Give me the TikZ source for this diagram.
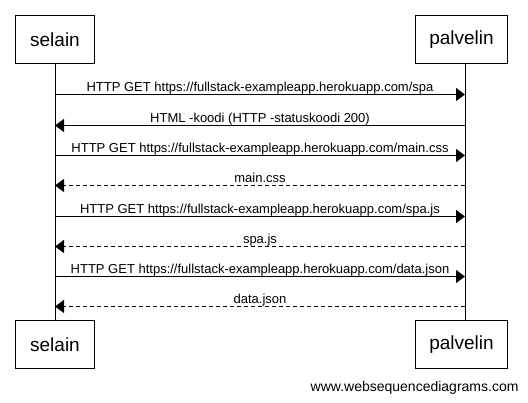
\documentclass[tikz,border=0pt]{standalone}
\usepackage{fontspec}
\setmainfont{Liberation Sans}
\usetikzlibrary{arrows.meta, positioning}

\begin{document}
\begin{tikzpicture}[
    x=1pt, y=-1pt,
    line width=1pt,
    actor/.style={draw, rectangle, minimum width=79pt, minimum height=48pt, inner sep=0pt, fill=white, font=\fontsize{19}{22}\selectfont},
    msg/.style={-{Triangle[length=9pt, width=13pt]}},
    reply/.style={-{Triangle[length=9pt, width=13pt]}, dash pattern=on 4pt off 3pt},
    lbl/.style={midway, anchor=base, yshift=3pt, inner sep=0pt, font=\fontsize{13}{15}\selectfont}
]
    \useasboundingbox (0,0) rectangle (528,403);

    % Actors (top and bottom)
    \node[actor] (SEL) at (55, 39.5) {selain};
    \node[actor, minimum width=92pt] (PAL) at (461.5, 39.5) {palvelin};
    \node[actor] (SEL2) at (55, 344.5) {selain};
    \node[actor, minimum width=92pt] (PAL2) at (461.5, 344.5) {palvelin};

    % Lifelines
    \coordinate (SELtop) at (55, 63.5);
    \coordinate (SELbot) at (55, 320.5);
    \coordinate (PALtop) at (465, 63.5);
    \coordinate (PALbot) at (465, 320.5);
    \draw (SELtop) -- (SELbot);
    \draw (PALtop) -- (PALbot);

    % Message points on the lifelines
    \coordinate (S1) at (55, 94.5);   \coordinate (P1) at (465, 94.5);
    \coordinate (S2) at (55, 125.5);  \coordinate (P2) at (465, 125.5);
    \coordinate (S3) at (55, 155.5);  \coordinate (P3) at (465, 155.5);
    \coordinate (S4) at (55, 185.5);  \coordinate (P4) at (465, 185.5);
    \coordinate (S5) at (55, 216.5);  \coordinate (P5) at (465, 216.5);
    \coordinate (S6) at (55, 246.5);  \coordinate (P6) at (465, 246.5);
    \coordinate (S7) at (55, 276.5);  \coordinate (P7) at (465, 276.5);
    \coordinate (S8) at (55, 306.5);  \coordinate (P8) at (465, 306.5);

    % Requests and replies
    \draw[msg] (S1) -- (P1) node[lbl] {HTTP GET https://fullstack-exampleapp.herokuapp.com/spa};
    \draw[msg] (P2) -- (S2) node[lbl] {HTML -koodi (HTTP -statuskoodi 200)};
    \draw[msg] (S3) -- (P3) node[lbl] {HTTP GET https://fullstack-exampleapp.herokuapp.com/main.css};
    \draw[reply] (P4) -- (S4) node[lbl] {main.css};
    \draw[msg] (S5) -- (P5) node[lbl] {HTTP GET https://fullstack-exampleapp.herokuapp.com/spa.js};
    \draw[reply] (P6) -- (S6) node[lbl] {spa.js};
    \draw[msg] (S7) -- (P7) node[lbl] {HTTP GET https://fullstack-exampleapp.herokuapp.com/data.json};
    \draw[reply] (P8) -- (S8) node[lbl] {data.json};

    % Watermark
    \node[anchor=base east, inner sep=0pt, font=\fontsize{14}{16}\selectfont] (WSD) at (519, 392) {www.websequencediagrams.com};

\end{tikzpicture}
\end{document}
